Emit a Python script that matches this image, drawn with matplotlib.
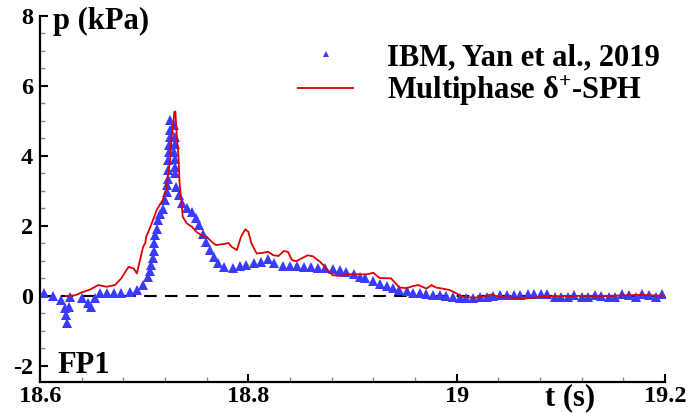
import matplotlib
matplotlib.use('Agg')
import matplotlib.pyplot as plt
from matplotlib.ticker import MultipleLocator

plt.rcParams['font.family'] = ['Liberation Serif', 'DejaVu Serif']
plt.rcParams['font.weight'] = 'bold'
plt.rcParams['axes.unicode_minus'] = False
plt.rcParams['mathtext.fontset'] = 'custom'
plt.rcParams['mathtext.rm'] = 'Liberation Serif:bold'
plt.rcParams['mathtext.it'] = 'Liberation Serif:bold'
plt.rcParams['mathtext.bf'] = 'Liberation Serif:bold'

# IBM reference (Yan et al., 2019)
t_ibm = [18.604, 18.612, 18.620, 18.624, 18.625, 18.626, 18.628, 18.629, 18.640, 18.646,
         18.649, 18.653, 18.658, 18.664, 18.671, 18.678, 18.686, 18.693, 18.699, 18.704,
         18.706, 18.707, 18.708, 18.709, 18.709, 18.710, 18.712, 18.713, 18.715, 18.718,
         18.720, 18.722, 18.722, 18.723, 18.723, 18.723, 18.724, 18.724, 18.725, 18.725,
         18.725, 18.729, 18.7295, 18.7295, 18.729, 18.7295, 18.7295, 18.7295, 18.731, 18.733,
         18.736, 18.741, 18.746, 18.750, 18.753, 18.756, 18.759, 18.763, 18.767, 18.771,
         18.777, 18.785, 18.792, 18.798, 18.805, 18.812, 18.819, 18.825, 18.833, 18.840,
         18.847, 18.853, 18.860, 18.867, 18.874, 18.881, 18.888, 18.894, 18.901, 18.907,
         18.912, 18.920, 18.926, 18.933, 18.939, 18.945, 18.952, 18.958, 18.965, 18.971,
         18.977, 18.984, 18.990, 18.996, 19.003, 19.009, 19.016, 19.022, 19.029, 19.035,
         19.042, 19.048, 19.055, 19.061, 19.068, 19.074, 19.081, 19.087, 19.094, 19.100,
         19.107, 19.113, 19.120, 19.126, 19.133, 19.139, 19.146, 19.152, 19.159, 19.165,
         19.172, 19.178, 19.185, 19.191, 19.197]
p_ibm = [0.07, 0.00, -0.12, -0.36, -0.55, -0.76, -0.33, -0.03, -0.05, -0.20,
         -0.33, -0.05, 0.07, 0.07, 0.07, 0.07, 0.11, 0.18, 0.32, 0.54,
         0.71, 0.88, 1.07, 1.29, 1.50, 1.73, 1.92, 2.16, 2.35, 2.48,
         2.75, 2.97, 3.16, 3.35, 3.59, 3.88, 4.11, 4.31, 4.54, 4.73,
         5.02, 4.88, 4.54, 4.35, 4.11, 3.92, 3.69, 3.50, 3.11, 2.88,
         2.64, 2.50, 2.40, 2.21, 2.02, 1.78, 1.54, 1.31, 1.11, 0.94,
         0.83, 0.80, 0.86, 0.88, 0.94, 0.97, 1.04, 0.93, 0.86, 0.86,
         0.85, 0.83, 0.83, 0.81, 0.81, 0.78, 0.73, 0.67, 0.62, 0.54,
         0.50, 0.42, 0.33, 0.28, 0.23, 0.18, 0.13, 0.09, 0.07, 0.04,
         0.02, 0.02, 0.00, -0.02, -0.05, -0.06, -0.05, -0.03, -0.02, 0.00,
         0.02, 0.03, 0.03, 0.02, 0.04, 0.05, 0.06, 0.05, -0.03, -0.02,
         -0.03, 0.03, -0.02, -0.03, 0.03, 0.00, -0.03, -0.02, 0.04, 0.03,
         -0.03, 0.04, 0.03, -0.03, 0.04]

# multiphase delta+-SPH
t_sph = [18.625, 18.630, 18.634, 18.640, 18.648, 18.656, 18.664, 18.672, 18.678, 18.685,
         18.690, 18.693, 18.696, 18.699, 18.701, 18.702, 18.706, 18.709, 18.712, 18.715,
         18.718, 18.722, 18.723, 18.725, 18.726, 18.728, 18.729, 18.730, 18.731, 18.733,
         18.734, 18.736, 18.737, 18.741, 18.746, 18.750, 18.755, 18.760, 18.765, 18.769,
         18.776, 18.781, 18.784, 18.789, 18.793, 18.797, 18.800, 18.803, 18.808, 18.814,
         18.819, 18.824, 18.829, 18.834, 18.838, 18.842, 18.846, 18.851, 18.857, 18.862,
         18.869, 18.875, 18.881, 18.888, 18.897, 18.907, 18.913, 18.920, 18.926, 18.937,
         18.945, 18.952, 18.958, 18.963, 18.971, 18.976, 18.980, 18.986, 18.993, 18.998,
         19.006, 19.016, 19.025, 19.033, 19.041, 19.054, 19.065, 19.080, 19.096, 19.112,
         19.144, 19.176, 19.200]
p_sph = [0.00, 0.01, 0.02, 0.10, 0.18, 0.31, 0.26, 0.31, 0.50, 0.83,
         0.78, 0.64, 1.02, 1.40, 1.50, 1.69, 1.97, 2.21, 2.45, 2.60,
         2.75, 3.16, 3.50, 3.88, 4.45, 4.93, 5.26, 5.26, 4.73, 3.97,
         3.21, 2.64, 2.26, 2.07, 1.97, 1.83, 1.73, 1.69, 1.54, 1.45,
         1.48, 1.51, 1.40, 1.31, 1.69, 1.90, 1.83, 1.50, 1.21, 1.23,
         1.26, 1.16, 1.14, 1.28, 1.26, 1.02, 0.99, 1.07, 1.16, 1.13,
         0.97, 0.78, 0.59, 0.57, 0.62, 0.62, 0.61, 0.66, 0.51, 0.50,
         0.24, 0.22, 0.28, 0.31, 0.21, 0.31, 0.24, 0.21, 0.17, 0.10,
         -0.03, -0.05, -0.03, 0.04, -0.03, -0.05, -0.08, -0.03, -0.01, 0.00,
         0.00, 0.03, 0.00]

W, H = 690, 413
fig = plt.figure(figsize=(W / 100, H / 100), dpi=100)
ax = fig.add_axes([40 / W, 1 - 381.7 / H, 625 / W, 366 / H])

ax.plot([18.6, 19.2], [0, 0], color='black', lw=1.5, dashes=(6, 4), zorder=1)
ax.plot(t_ibm, p_ibm, linestyle='none', marker='^', markersize=6.5,
        color='#3b3bff', markeredgewidth=0, label='IBM, Yan et al., 2019', zorder=2)
ax.plot(t_sph, p_sph, color='#e00000', lw=1.3,
        label=r'Multiphase $\mathrm{\delta}^{+}$-SPH', zorder=3)

ax.set_xlim(18.6, 19.2)
ax.set_ylim(-2.45, 8)
ax.set_xticks([18.6, 18.8, 19.0, 19.2])
ax.set_xticklabels(['18.6', '18.8', '19', '19.2'])
ax.set_yticks([-2, 0, 2, 4, 6, 8])
ax.xaxis.set_minor_locator(MultipleLocator(0.04))
ax.yaxis.set_minor_locator(MultipleLocator(0.5))
ax.tick_params(which='major', direction='in', length=6, width=1.5, labelsize=17.5)
ax.tick_params(axis='y', which='major', pad=5)
ax.tick_params(axis='x', which='major', pad=3)
ax.tick_params(which='minor', direction='in', length=3.5, width=1, color='#888888')
for s in ['top', 'right']:
    ax.spines[s].set_visible(False)
for s in ['left', 'bottom']:
    ax.spines[s].set_linewidth(1.6)

fig.text(53 / W, 1 - 29 / H, 'p (kPa)', fontsize=22, ha='left', va='baseline')
fig.text(57 / W, 1 - 373 / H, 'FP1', fontsize=22, ha='left', va='baseline')
fig.text(570 / W, 1 - 405 / H, 't (s)', fontsize=22, ha='center', va='baseline')

ax.legend(loc='upper left', bbox_to_anchor=(298 / W, 1 - 43 / H),
          bbox_transform=fig.transFigure, frameon=False, fontsize=22,
          handlelength=1.8, handletextpad=1.1, labelspacing=0.05,
          borderpad=0, borderaxespad=0, markerscale=0.7)

fig.savefig('out.png', dpi=100)
